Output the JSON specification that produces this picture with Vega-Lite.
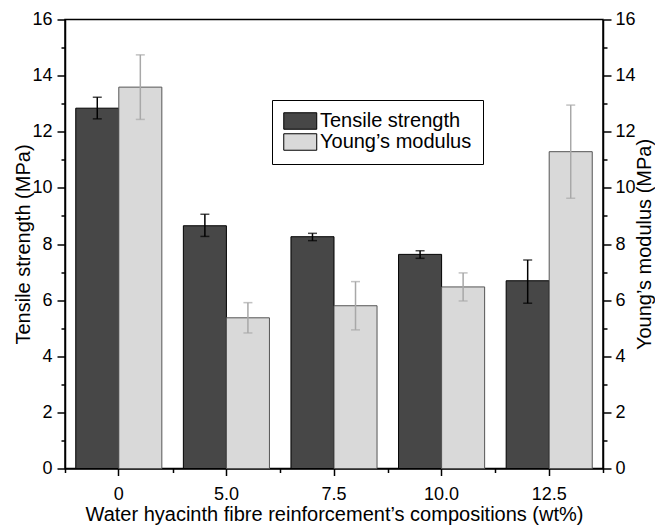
{
  "$schema": "https://vega.github.io/schema/vega-lite/v6.json",
  "width": 538,
  "height": 449,
  "autosize": "none",
  "padding": {"left": 65, "top": 19.5, "right": 52, "bottom": 56.5},
  "background": "white",
  "config": {
    "font": "Liberation Sans",
    "view": {"stroke": "black", "strokeWidth": 1.5},
    "axis": {
      "domainColor": "black", "domainWidth": 1.5,
      "tickColor": "black", "tickWidth": 1.5,
      "labelColor": "black", "titleColor": "black",
      "labelFont": "Liberation Sans", "titleFont": "Liberation Sans",
      "labelFontSize": 18, "titleFontSize": 20, "titleFontWeight": "normal",
      "grid": false
    }
  },
  "data": {
    "values": [
      {"comp": "0", "series": "Tensile strength", "value": 12.84, "lo": 12.46, "hi": 13.23},
      {"comp": "0", "series": "Young’s modulus", "value": 13.59, "lo": 12.44, "hi": 14.74},
      {"comp": "5.0", "series": "Tensile strength", "value": 8.65, "lo": 8.27, "hi": 9.06},
      {"comp": "5.0", "series": "Young’s modulus", "value": 5.37, "lo": 4.83, "hi": 5.91},
      {"comp": "7.5", "series": "Tensile strength", "value": 8.26, "lo": 8.12, "hi": 8.38},
      {"comp": "7.5", "series": "Young’s modulus", "value": 5.80, "lo": 4.94, "hi": 6.66},
      {"comp": "10.0", "series": "Tensile strength", "value": 7.63, "lo": 7.49, "hi": 7.76},
      {"comp": "10.0", "series": "Young’s modulus", "value": 6.47, "lo": 5.97, "hi": 6.97},
      {"comp": "12.5", "series": "Tensile strength", "value": 6.69, "lo": 5.89, "hi": 7.43},
      {"comp": "12.5", "series": "Young’s modulus", "value": 11.29, "lo": 9.63, "hi": 12.95}
    ]
  },
  "layer": [
    {
      "mark": {"type": "bar", "strokeWidth": 1},
      "encoding": {
        "x": {
          "field": "comp", "type": "nominal",
          "sort": ["0", "5.0", "7.5", "10.0", "12.5"],
          "scale": {"paddingInner": 0, "paddingOuter": 0},
          "axis": {
            "orient": "bottom", "labelAngle": 0, "tickSize": 7, "labelPadding": 9.5,
            "domain": true,
            "title": "Water hyacinth fibre reinforcement’s compositions (wt%)",
            "titleBaseline": "alphabetic", "titleY": 51.5, "titleX": 269
          }
        },
        "xOffset": {
          "field": "series", "type": "nominal",
          "scale": {"paddingInner": 0, "paddingOuter": 0.25}
        },
        "y": {
          "field": "value", "type": "quantitative",
          "scale": {"domain": [0, 16], "nice": false},
          "axis": {
            "orient": "left",
            "values": [0, 2, 4, 6, 8, 10, 12, 14, 16],
            "tickSize": 8,
            "labelPadding": 5,
            "title": "Tensile strength (MPa)",
            "titleAngle": -90, "titleBaseline": "alphabetic", "titleAlign": "center",
            "titleX": -35.5, "titleY": 224.5
          }
        },
        "fill": {
          "field": "series", "type": "nominal",
          "scale": {"domain": ["Tensile strength", "Young’s modulus"], "range": ["#474747", "#d9d9d9"]},
          "legend": {
            "orient": "none", "legendX": 207, "legendY": 80.5,
            "title": null,
            "strokeColor": "black", "fillColor": "white", "padding": 11,
            "symbolType": "M-1.12,-1H2.88V1H-1.12Z", "symbolSize": 272,
            "symbolStrokeColor": "black", "symbolStrokeWidth": 1, "symbolOpacity": 1,
            "labelFontSize": 20, "labelOffset": 17, "rowPadding": -3,
            "labelColor": "black", "labelFont": "Liberation Sans"
          }
        },
        "stroke": {
          "condition": {"test": "datum.series == 'Tensile strength'", "value": "black"},
          "value": "#555555"
        }
      }
    },
    {
      "mark": {"type": "rule", "strokeWidth": 1.5},
      "encoding": {
        "x": {
          "field": "comp", "type": "nominal",
          "sort": ["0", "5.0", "7.5", "10.0", "12.5"],
          "axis": {
            "orient": "bottom", "tickBand": "extent", "labels": false, "domain": false,
            "tickSize": 4, "title": null
          }
        },
        "xOffset": {"field": "series", "type": "nominal"},
        "y": {
          "field": "lo", "type": "quantitative",
          "axis": {
            "orient": "right",
            "values": [0, 2, 4, 6, 8, 10, 12, 14, 16],
            "tickSize": 8,
            "labelPadding": 4,
            "title": "Young’s modulus (MPa)",
            "titleAngle": -90, "titleBaseline": "alphabetic", "titleAlign": "center",
            "titleX": 47, "titleY": 224.5
          }
        },
        "y2": {"field": "hi"},
        "color": {
          "condition": {"test": "datum.series == 'Tensile strength'", "value": "black"},
          "value": "#a8a8a8"
        }
      }
    },
    {
      "mark": {"type": "tick", "thickness": 1.5, "size": 9},
      "encoding": {
        "x": {"field": "comp", "type": "nominal", "sort": ["0", "5.0", "7.5", "10.0", "12.5"], "axis": null},
        "xOffset": {"field": "series", "type": "nominal"},
        "y": {
          "field": "lo", "type": "quantitative",
          "axis": {
            "orient": "left", "values": [1, 3, 5, 7, 9, 11, 13, 15],
            "tickSize": 4, "labels": false, "domain": false, "title": null
          }
        },
        "color": {
          "condition": {"test": "datum.series == 'Tensile strength'", "value": "black"},
          "value": "#a8a8a8"
        }
      }
    },
    {
      "mark": {"type": "tick", "thickness": 1.5, "size": 9},
      "encoding": {
        "x": {"field": "comp", "type": "nominal", "sort": ["0", "5.0", "7.5", "10.0", "12.5"], "axis": null},
        "xOffset": {"field": "series", "type": "nominal"},
        "y": {
          "field": "hi", "type": "quantitative",
          "axis": {
            "orient": "right", "values": [1, 3, 5, 7, 9, 11, 13, 15],
            "tickSize": 4, "labels": false, "domain": false, "title": null
          }
        },
        "color": {
          "condition": {"test": "datum.series == 'Tensile strength'", "value": "black"},
          "value": "#a8a8a8"
        }
      }
    }
  ],
  "resolve": {"axis": {"x": "independent", "y": "independent"}}
}
